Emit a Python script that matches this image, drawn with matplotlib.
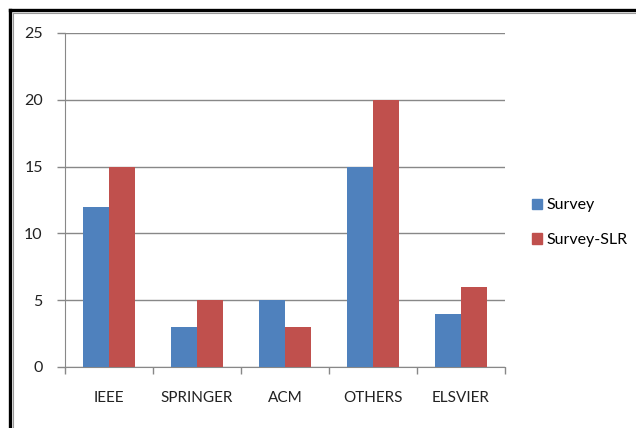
import matplotlib
matplotlib.use("Agg")
import matplotlib.pyplot as plt
import numpy as np
from matplotlib.patches import Rectangle
from matplotlib.lines import Line2D

categories = ["IEEE", "SPRINGER", "ACM", "OTHERS", "ELSVIER"]
survey = [12, 3, 5, 15, 4]
survey_slr = [15, 5, 3, 20, 6]
yticks = [0, 5, 10, 15, 20, 25]

plt.rcParams['font.family'] = ['Lato', 'DejaVu Sans']

W, H = 636, 428
fig = plt.figure(figsize=(W / 100, H / 100), dpi=100)
ax = fig.add_axes([65 / W, 1 - 367 / H, 440 / W, 334 / H])

x = np.arange(len(categories))
bw = 0.29
blue = "#4F81BD"
red = "#C0504D"
ax.bar(x - bw / 2, survey, bw, color=blue, label="Survey", zorder=3)
ax.bar(x + bw / 2, survey_slr, bw, color=red, label="Survey-SLR", zorder=3)

ax.set_xlim(-0.5, len(categories) - 0.5)
ax.set_ylim(0, 25)
ax.set_yticks(yticks)
ax.set_yticklabels([str(v) for v in yticks], fontsize=11.5, color="#222222")
ax.yaxis.grid(True, color="#888888", linewidth=1.0, zorder=0)
ax.set_axisbelow(True)

ax.set_xticks(x)
ax.set_xticklabels(categories, fontsize=11, color="#222222")
ax.tick_params(axis='x', length=0, pad=17)
ax.set_xticks(np.arange(-0.5, len(categories) + 0.5, 1), minor=True)
ax.tick_params(axis='x', which='minor', length=5, color="#888888", width=1)
ax.tick_params(axis='y', length=6, color="#888888", width=1, pad=10)

for s in ["top", "right"]:
    ax.spines[s].set_visible(False)
ax.spines["left"].set_color("#888888")
ax.spines["bottom"].set_color("#888888")

handles = [Rectangle((0, 0), 1, 1, color=blue), Rectangle((0, 0), 1, 1, color=red)]
fig.legend(handles, ["Survey", "Survey-SLR"], loc="upper left",
           bbox_to_anchor=(526 / W, 1 - 192 / H), frameon=False,
           fontsize=11.5, handlelength=0.6, handleheight=0.6,
           handletextpad=0.3, labelspacing=1.3, borderaxespad=0)

# outer frame (cut off at right and bottom)
fig.add_artist(Line2D([10 / W, 10 / W], [0, 1 - 10 / H], color="black", linewidth=2.4, transform=fig.transFigure))
fig.add_artist(Line2D([10 / W, 1], [1 - 10 / H, 1 - 10 / H], color="black", linewidth=2.4, transform=fig.transFigure))
fig.add_artist(Line2D([12.5 / W, 12.5 / W], [0, 1 - 12.5 / H], color="#999999", linewidth=0.8, transform=fig.transFigure))
fig.add_artist(Line2D([12.5 / W, 1], [1 - 12.5 / H, 1 - 12.5 / H], color="#999999", linewidth=0.8, transform=fig.transFigure))

fig.savefig("out.png", dpi=100)
